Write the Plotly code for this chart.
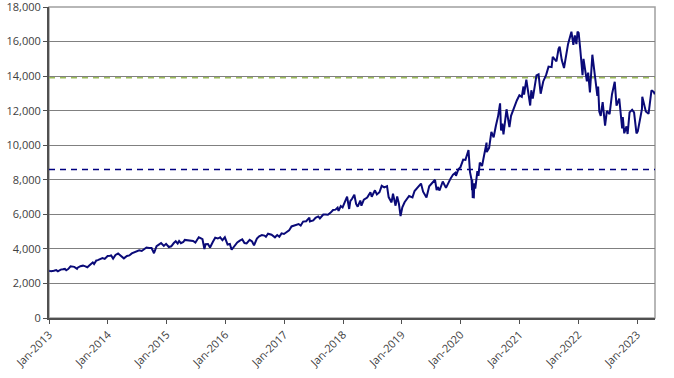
import plotly.graph_objects as go

dates = [
    "2013-01-02","2013-01-15","2013-01-31","2013-02-15","2013-02-25","2013-03-15","2013-03-28",
    "2013-04-10","2013-04-18","2013-04-30","2013-05-15","2013-05-31","2013-06-07","2013-06-24",
    "2013-06-28","2013-07-15","2013-07-31","2013-08-15","2013-08-27","2013-09-15","2013-09-30",
    "2013-10-08","2013-10-22","2013-10-31","2013-11-15","2013-11-29","2013-12-13","2013-12-31",
    "2014-01-15","2014-01-22","2014-02-03","2014-02-18","2014-03-06","2014-03-20","2014-04-11",
    "2014-04-30","2014-05-15","2014-05-30","2014-06-15","2014-06-30","2014-07-15","2014-07-31",
    "2014-08-15","2014-08-29","2014-09-15","2014-09-30","2014-10-15","2014-10-31","2014-11-14",
    "2014-11-28","2014-12-15","2014-12-29","2015-01-15","2015-01-30","2015-02-15","2015-02-27",
    "2015-03-11","2015-03-20","2015-03-31","2015-04-15","2015-04-24","2015-05-15","2015-05-29",
    "2015-06-15","2015-06-29","2015-07-20","2015-07-31","2015-08-12","2015-08-24","2015-08-31",
    "2015-09-15","2015-09-28","2015-10-15","2015-10-30","2015-11-15","2015-11-30","2015-12-14",
    "2015-12-29","2016-01-15","2016-01-29","2016-02-09","2016-02-29","2016-03-15","2016-03-31",
    "2016-04-15","2016-04-29","2016-05-12","2016-05-31","2016-06-15","2016-06-27","2016-07-15",
    "2016-07-29","2016-08-15","2016-08-31","2016-09-09","2016-09-22","2016-10-14","2016-11-04",
    "2016-11-18","2016-12-01","2016-12-15","2016-12-30","2017-01-15","2017-01-31","2017-02-15",
    "2017-02-28","2017-03-15","2017-03-31","2017-04-13","2017-04-28","2017-05-17","2017-06-06",
    "2017-06-09","2017-06-30","2017-07-14","2017-07-31","2017-08-10","2017-08-31","2017-09-15",
    "2017-09-29","2017-10-16","2017-10-31","2017-11-15","2017-11-28","2017-12-04","2017-12-18",
    "2017-12-29","2018-01-12","2018-01-26","2018-02-08","2018-02-15","2018-02-26","2018-03-12",
    "2018-03-23","2018-04-02","2018-04-18","2018-04-25","2018-05-10","2018-05-31","2018-06-20",
    "2018-06-28","2018-07-18","2018-07-30","2018-08-15","2018-08-29","2018-09-14","2018-10-01",
    "2018-10-11","2018-10-29","2018-11-07","2018-11-23","2018-12-03","2018-12-14","2018-12-24",
    "2019-01-04","2019-01-18","2019-01-31","2019-02-15","2019-03-08","2019-03-21","2019-04-15",
    "2019-04-30","2019-05-13","2019-06-03","2019-06-20","2019-07-15","2019-07-26","2019-08-05",
    "2019-08-12","2019-08-23","2019-09-12","2019-10-02","2019-10-15","2019-10-31","2019-11-15",
    "2019-11-29","2019-12-03","2019-12-18","2019-12-31","2020-01-17","2020-01-31","2020-02-19",
    "2020-02-28","2020-03-09","2020-03-12","2020-03-13","2020-03-16","2020-03-23","2020-03-26",
    "2020-04-01","2020-04-14","2020-04-21","2020-04-29","2020-05-13","2020-05-29","2020-06-10",
    "2020-06-11","2020-06-26","2020-07-10","2020-07-24","2020-08-07","2020-08-21","2020-09-02",
    "2020-09-08","2020-09-16","2020-09-23","2020-10-12","2020-10-30","2020-11-09","2020-11-16",
    "2020-11-30","2020-12-15","2020-12-31","2021-01-15","2021-01-25","2021-01-29","2021-02-12",
    "2021-02-25","2021-03-08","2021-03-15","2021-03-24","2021-04-16","2021-04-29","2021-05-12",
    "2021-05-28","2021-06-15","2021-06-30","2021-07-19","2021-07-26","2021-08-18","2021-08-31",
    "2021-09-07","2021-09-20","2021-10-04","2021-10-15","2021-10-29","2021-11-19","2021-12-01",
    "2021-12-10","2021-12-20","2021-12-27","2022-01-03","2022-01-13","2022-01-27","2022-02-02",
    "2022-02-14","2022-02-23","2022-03-03","2022-03-14","2022-03-29","2022-04-12","2022-04-29",
    "2022-05-04","2022-05-11","2022-05-20","2022-06-01","2022-06-16","2022-06-27","2022-07-14",
    "2022-07-29","2022-08-15","2022-08-26","2022-09-12","2022-09-30","2022-10-04","2022-10-13",
    "2022-10-27","2022-11-03","2022-11-15","2022-12-01","2022-12-13","2022-12-28","2023-01-05",
    "2023-01-31","2023-02-02","2023-02-24","2023-03-13","2023-03-31","2023-04-14","2023-04-21",
]

values = [
    2730,2700,2730,2770,2700,2800,2818,
    2840,2760,2830,2990,2990,2960,2850,
    2910,3000,3030,2990,2940,3100,3220,
    3120,3330,3350,3400,3470,3420,3590,
    3600,3620,3440,3650,3730,3630,3450,
    3590,3620,3740,3790,3850,3920,3880,
    3970,4080,4050,4050,3750,4160,4250,
    4340,4170,4290,4110,4150,4340,4440,
    4310,4460,4330,4400,4520,4500,4510,
    4460,4370,4670,4620,4560,3990,4270,
    4280,4080,4400,4650,4600,4670,4500,
    4670,4250,4280,3950,4200,4370,4480,
    4550,4340,4320,4520,4430,4200,4600,
    4730,4800,4770,4700,4880,4820,4670,
    4800,4700,4900,4860,4970,5070,5300,
    5330,5400,5440,5350,5580,5600,5810,
    5590,5650,5800,5880,5760,5990,5990,
    5980,6100,6250,6270,6390,6200,6480,
    6400,6700,7020,6310,6760,6900,7130,
    6600,6440,6800,6500,6850,6970,7280,
    7020,7390,7150,7280,7650,7560,7630,
    7000,6690,7190,6500,7030,6600,5900,
    6400,6700,6900,7060,6980,7350,7620,
    7780,7310,6980,7620,7930,8000,7400,
    7580,7380,7900,7530,7800,8080,8300,
    8400,8230,8600,8730,9170,9150,9720,
    8460,8000,7400,8000,7000,6990,7800,
    7490,8500,8230,9000,8800,9550,10150,
    9600,9850,10770,10460,11130,11700,12420,
    10850,11250,10630,12080,11050,11700,11900,
    12270,12590,12890,12800,13400,12930,13800,
    12830,12300,13180,12700,14040,14100,12980,
    13690,14070,14550,14520,15120,14850,15580,
    15700,14930,14470,15100,15850,16570,15810,
    16350,15850,16570,16500,15540,14050,15000,
    14380,13700,14200,13050,15240,14000,12850,
    13400,11950,11700,12500,11130,11980,11800,
    12950,13670,12290,12700,10970,11630,10690,
    11090,10650,11900,12050,11900,10680,10800,
    12100,12800,11950,11820,13180,13080,12950,
]

level_blue = 8600
level_green = 13900

y_ticks = [0, 2000, 4000, 6000, 8000, 10000, 12000, 14000, 16000, 18000]
x_ticks = ["2013-01-01","2014-01-01","2015-01-01","2016-01-01","2017-01-01","2018-01-01",
           "2019-01-01","2020-01-01","2021-01-01","2022-01-01","2023-01-01"]
x_labels = ["Jan-2013","Jan-2014","Jan-2015","Jan-2016","Jan-2017","Jan-2018",
            "Jan-2019","Jan-2020","Jan-2021","Jan-2022","Jan-2023"]

x_start = "2013-01-01"
x_end = "2023-04-22"

fig = go.Figure()

fig.add_trace(go.Scatter(
    x=[x_start, x_end], y=[level_blue, level_blue], mode="lines",
    line=dict(color="#000080", width=1.5, dash="6px,5px"), hoverinfo="skip", showlegend=False))
fig.add_trace(go.Scatter(
    x=[x_start, x_end], y=[level_green, level_green], mode="lines",
    line=dict(color="#9BBB59", width=1.5, dash="6px,5px"), hoverinfo="skip", showlegend=False))
fig.add_trace(go.Scatter(
    x=dates, y=values, mode="lines",
    line=dict(color="#0A0A78", width=2), showlegend=False))

fig.update_layout(
    width=674, height=378,
    margin=dict(l=49, r=19, t=7, b=60, autoexpand=False),
    paper_bgcolor="white", plot_bgcolor="white",
    font=dict(family="Open Sans", size=11, color="#404040"),
    shapes=[dict(type="rect", xref="paper", yref="paper", x0=0, x1=1, y0=0, y1=1,
                 line=dict(color="#A0A0A0", width=1.5), layer="below")],
)
fig.update_xaxes(
    type="date", range=[x_start, x_end], automargin=False,
    tickmode="array", tickvals=x_ticks, ticktext=x_labels, tickangle=-45,
    showgrid=False, zeroline=False,
    showline=True, linecolor="#505050", linewidth=2,
    ticks="outside", ticklen=4, tickcolor="#505050", tickwidth=1,
    tickfont=dict(size=11, color="#404040"),
)
fig.update_yaxes(
    range=[0, 18000], tickmode="array", tickvals=y_ticks, automargin=False,
    tickformat=",d", ticklabeloverflow="allow",
    showgrid=True, gridcolor="#808080", gridwidth=1, zeroline=False,
    showline=True, linecolor="#505050", linewidth=2,
    ticks="outside", ticklen=4, tickcolor="#505050", tickwidth=1,
    tickfont=dict(size=11, color="#404040"),
)

fig.write_html("out.html", config={"displayModeBar": False},
               post_script="document.body.style.margin='0';document.body.style.overflow='hidden';")
